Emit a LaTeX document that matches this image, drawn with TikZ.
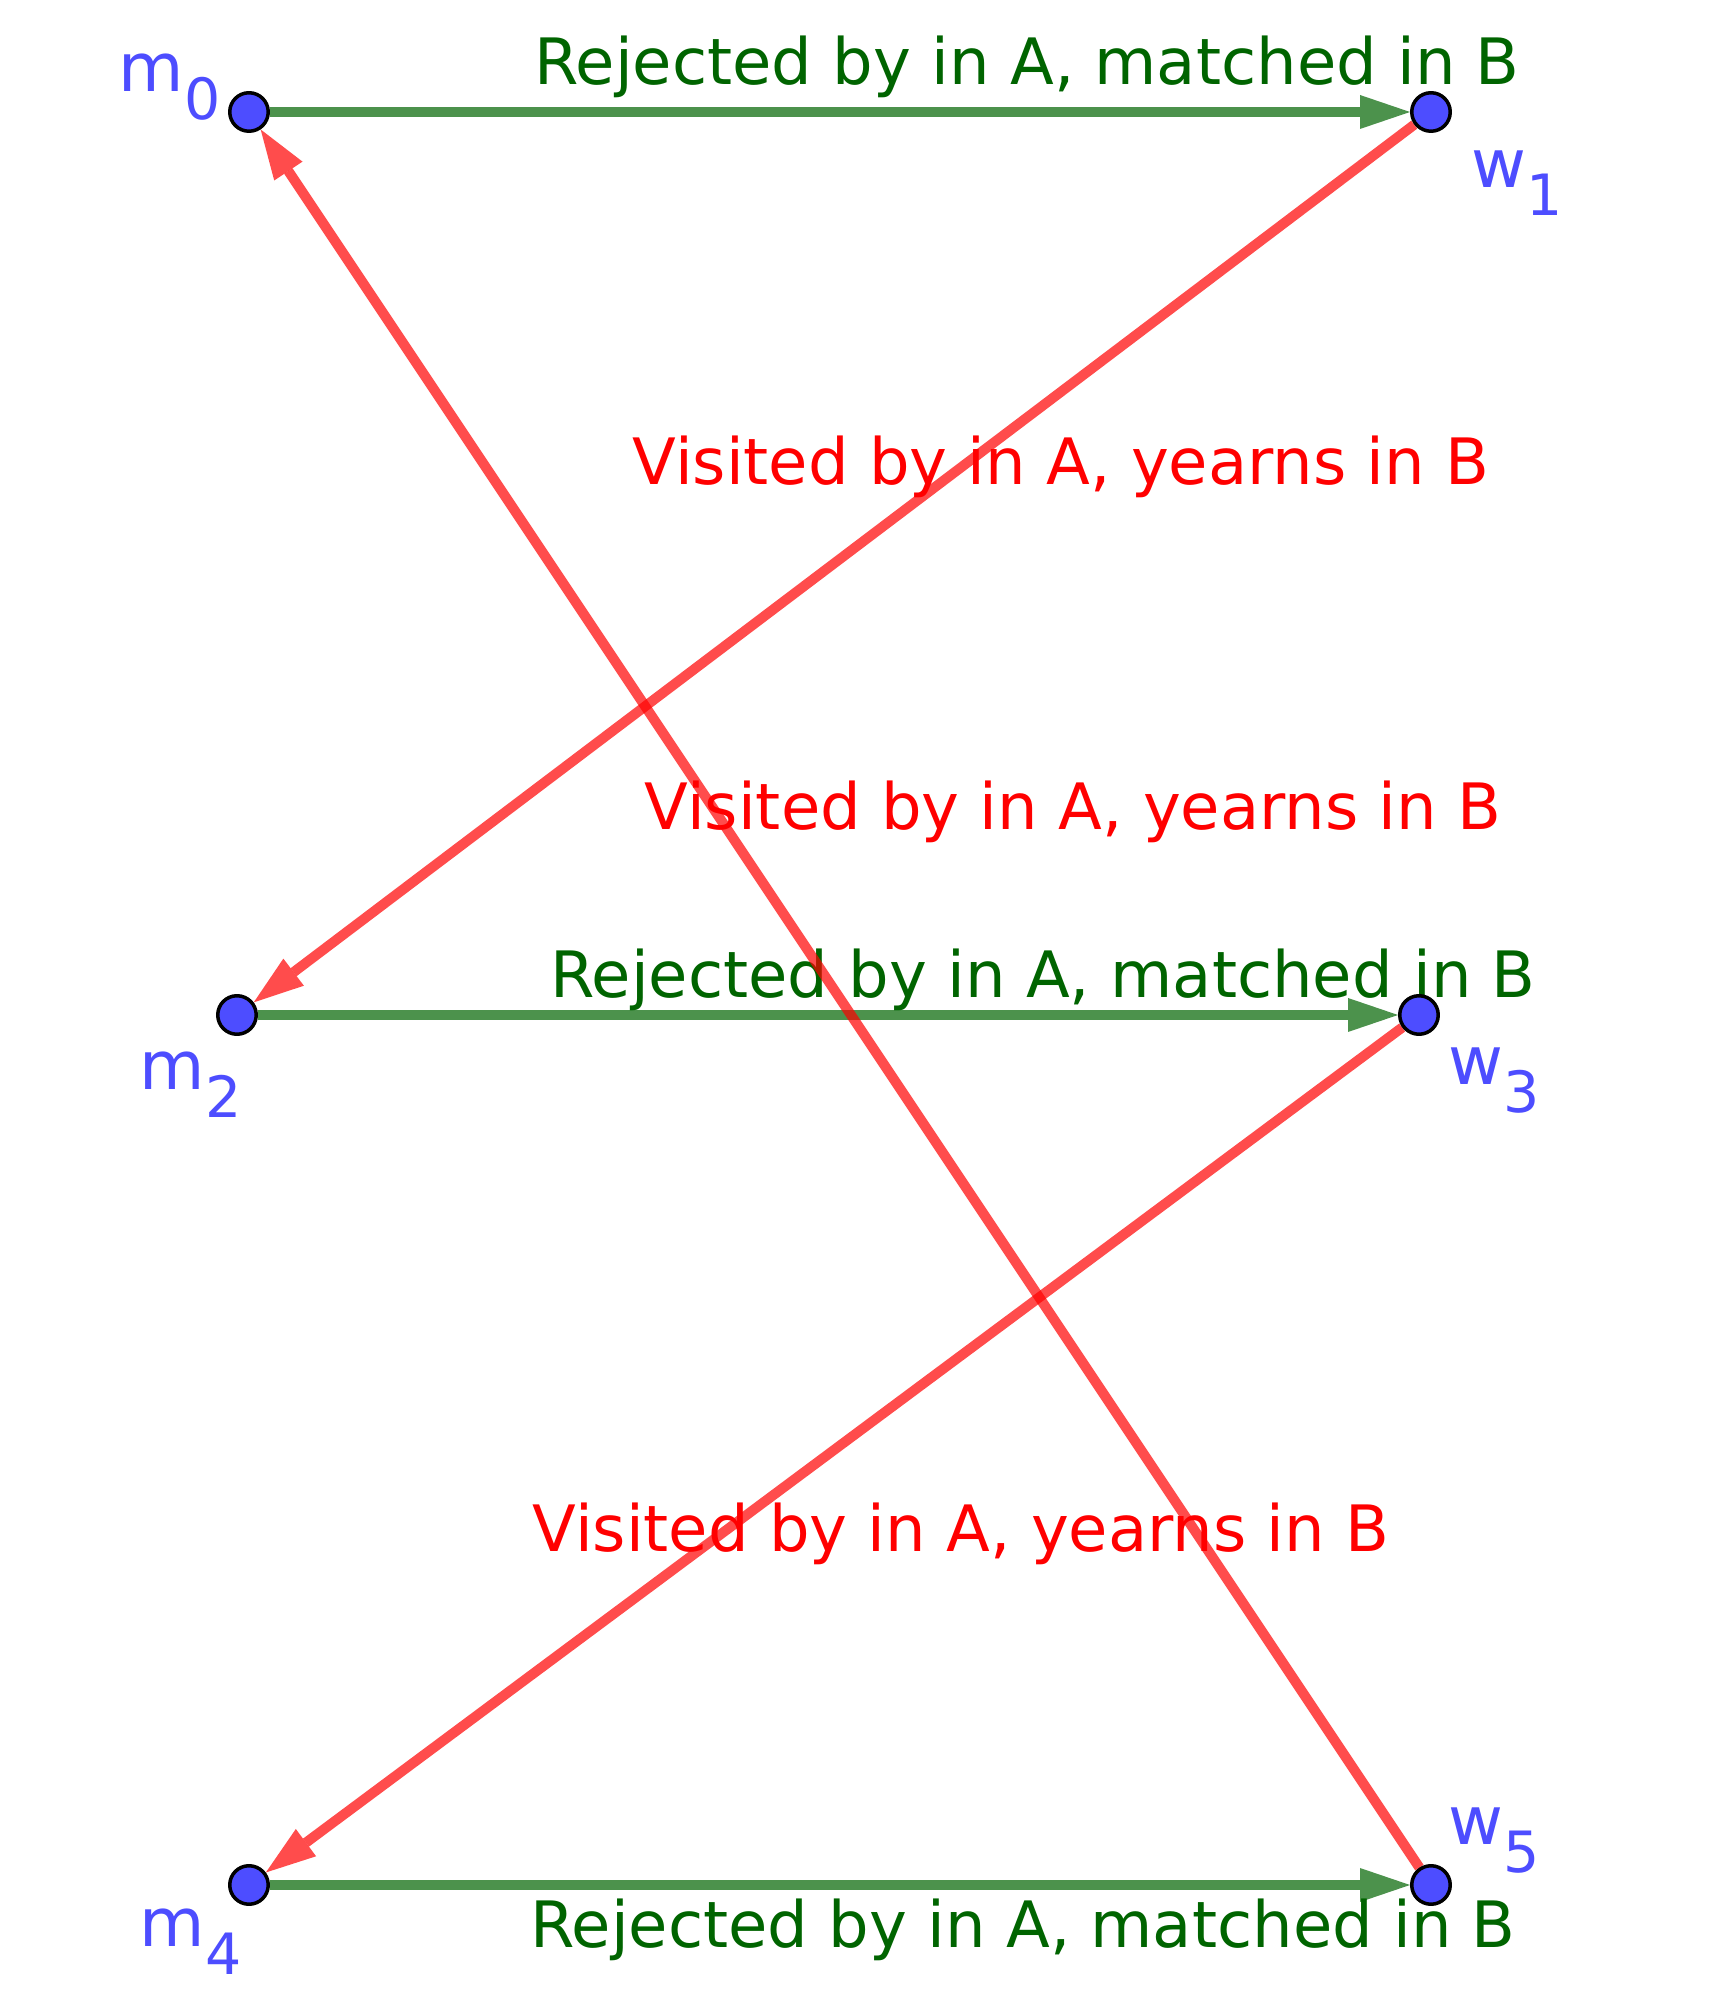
\documentclass[tikz,border=0pt]{standalone}
\usepackage{fontspec}
\setmainfont{DejaVu Sans}
\usetikzlibrary{arrows.meta}
\definecolor{ptblue}{RGB}{77,77,255}
\definecolor{grn}{RGB}{0,100,0}
\pgfdeclarelayer{back}
\pgfsetlayers{back,main}
\newcommand{\vlab}[2]{\fontsize{19.1pt}{19.1pt}\selectfont #1\raisebox{-2.8mm}{\fontsize{16.2pt}{16.2pt}\selectfont #2}}

\begin{document}
\begin{tikzpicture}[line cap=round,line join=round,x=0.1mm,y=0.1mm,
  vertex/.style={circle,draw=black,fill=ptblue,line width=0.35mm,minimum size=3.85mm,inner sep=0pt},
  vname/.style={anchor=base west,inner sep=0pt,text=ptblue},
  elab/.style={anchor=base,inner sep=0pt,font=\fontsize{18.2pt}{18.2pt}\selectfont},
  matched/.style={draw=grn,opacity=0.7,line width=1mm,-{Triangle[length=5mm,width=3.4mm,line width=0pt]}},
  yearn/.style={draw=red,opacity=0.7,line width=1mm,-{Triangle[length=5mm,width=3.4mm,line width=0pt]}}]
\useasboundingbox (0,0) rectangle (1723,2000);
% points
\node[vertex] (m0) at (249,1888) {};
\node[vertex] (w1) at (1431,1888) {};
\node[vertex] (m2) at (237,985) {};
\node[vertex] (w3) at (1419,985) {};
\node[vertex] (m4) at (249,115) {};
\node[vertex] (w5) at (1431,115) {};
\node[vname] (lm0) at (118,1908) {\vlab{m}{0}};
\node[vname] (lw1) at (1471,1812) {\vlab{w}{1}};
\node[vname] (lm2) at (139,910) {\vlab{m}{2}};
\node[vname] (lw3) at (1448,915) {\vlab{w}{3}};
\node[vname] (lm4) at (139,53) {\vlab{m}{4}};
\node[vname] (lw5) at (1448,155) {\vlab{w}{5}};
\begin{pgfonlayer}{back}
\node[elab,text=grn] (t01) at (1027,1915) {Rejected by in A, matched in B};
\node[elab,text=red] (t12) at (1061,1515) {Visited by in A, yearns in B};
\node[elab,text=red] (t50) at (1073,1170) {Visited by in A, yearns in B};
\node[elab,text=grn] (t23) at (1043,1002) {Rejected by in A, matched in B};
\node[elab,text=red] (t34) at (961,448) {Visited by in A, yearns in B};
\node[elab,text=grn] (t45) at (1023,52) {Rejected by in A, matched in B};
% edges
\draw[matched] (m0) -- (w1);
\draw[yearn] (w1) -- (m2);
\draw[matched] (m2) -- (w3);
\draw[yearn] (w3) -- (m4);
\draw[matched] (m4) -- (w5);
\draw[yearn] (w5) -- (m0);
\end{pgfonlayer}
\end{tikzpicture}
\end{document}
